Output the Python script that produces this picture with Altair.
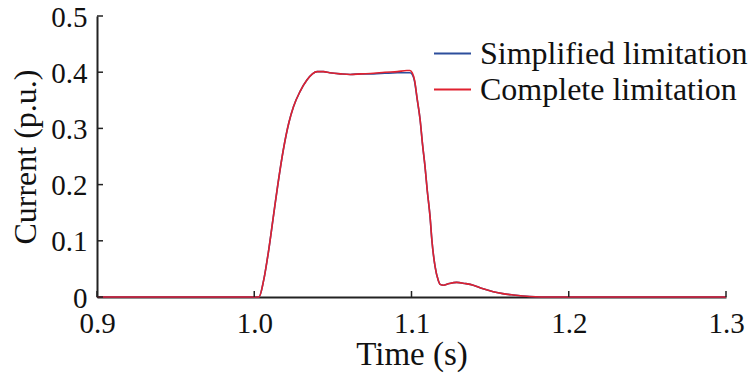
import altair as alt
import pandas as pd

# Time axis samples (s)
time = [0.9, 1.0, 1.003, 1.006, 1.009, 1.012, 1.015, 1.0185, 1.022, 1.025, 1.029,
        1.0335, 1.037, 1.040, 1.044, 1.048, 1.055, 1.061, 1.068, 1.076, 1.083,
        1.091, 1.097, 1.099, 1.1005, 1.102, 1.1035, 1.1055, 1.107, 1.1086, 1.110,
        1.1118, 1.113, 1.115, 1.117, 1.1185, 1.1202, 1.124, 1.1287, 1.134, 1.1393,
        1.145, 1.152, 1.158, 1.1647, 1.175, 1.19, 1.3]

complete = [0, 0, 0, 0.03, 0.08, 0.14, 0.2, 0.262, 0.31, 0.339, 0.365,
            0.386, 0.397, 0.401, 0.401, 0.399, 0.397, 0.396, 0.397, 0.398, 0.400,
            0.401, 0.403, 0.403, 0.399, 0.385, 0.355, 0.315, 0.272, 0.232, 0.19,
            0.143, 0.1, 0.054, 0.03, 0.022, 0.021, 0.024, 0.026, 0.024, 0.021,
            0.015, 0.0095, 0.006, 0.0036, 0.001, 0.0, 0.0]

simplified = [0, 0, 0, 0.03, 0.08, 0.14, 0.2, 0.262, 0.31, 0.339, 0.365,
              0.386, 0.397, 0.401, 0.401, 0.399, 0.397, 0.396, 0.397, 0.397, 0.398,
              0.399, 0.399, 0.399, 0.396, 0.383, 0.354, 0.315, 0.272, 0.232, 0.19,
              0.143, 0.1, 0.054, 0.03, 0.022, 0.021, 0.024, 0.026, 0.024, 0.021,
              0.015, 0.0095, 0.006, 0.0036, 0.001, 0.0, 0.0]

series_names = ["Simplified limitation", "Complete limitation"]
series_colors = ["#2d4e9c", "#e0212f"]

x_ticks = [0.9, 1.0, 1.1, 1.2, 1.3]
y_ticks = [0, 0.1, 0.2, 0.3, 0.4, 0.5]

rows = []
for t, v in zip(time, simplified):
    rows.append({"t": t, "v": v, "s": series_names[0], "o": 0})
for t, v in zip(time, complete):
    rows.append({"t": t, "v": v, "s": series_names[1], "o": 1})
df = pd.DataFrame(rows)

FONT = "Times New Roman, Liberation Serif, serif"
LFS = 29   # tick labels
XTFS = 33  # x title
YTFS = 32  # y title
GFS = 32   # legend labels
W, H = 629, 281

xs = alt.Scale(domain=[0.9, 1.3], nice=False, zero=False)
ys = alt.Scale(domain=[0, 0.5], nice=False)

lines = alt.Chart(df).mark_line(strokeWidth=1.6, interpolate="monotone").encode(
    x=alt.X("t:Q", scale=xs, title="Time (s)",
            axis=alt.Axis(values=x_ticks, format=".1f", ticks=False, grid=False,
                          labelFont=FONT, labelFontSize=LFS, titleFont=FONT, titleFontSize=XTFS,
                          labelColor="#111", titleColor="#111", titleFontWeight="normal",
                          labelPadding=12, titlePadding=0, labelFlush=False)),
    y=alt.Y("v:Q", scale=ys, title="Current (p.u.)",
            axis=alt.Axis(values=y_ticks, labelExpr="datum.value == 0 ? '0' : format(datum.value, '.1f')",
                          labelFont=FONT, labelFontSize=LFS, titleFont=FONT, titleFontSize=YTFS,
                          labelColor="#111", titleColor="#111", titleFontWeight="normal",
                          ticks=False, grid=False, labelPadding=10, titlePadding=8,
                          labelOffset=1, labelFlush=False)),
    color=alt.Color("s:N", scale=alt.Scale(domain=series_names, range=series_colors),
                    legend=alt.Legend(title=None, orient="none", legendX=336, legendY=18,
                                      symbolType="stroke", symbolSize=1369, symbolStrokeWidth=2,
                                      labelFont=FONT, labelFontSize=GFS, labelColor="#111",
                                      labelLimit=0, labelOffset=8, rowPadding=0, padding=0)),
    order="o:Q",
    detail="s:N",
)

xt = alt.Chart(pd.DataFrame({"t": x_ticks})).mark_rule(color="#222", strokeWidth=1.5).encode(
    x=alt.X("t:Q", scale=xs), y=alt.value(H), y2=alt.value(H - 6))
yt = alt.Chart(pd.DataFrame({"v": y_ticks})).mark_rule(color="#222", strokeWidth=1.5).encode(
    y=alt.Y("v:Q", scale=ys), x=alt.value(0), x2=alt.value(6))

chart = alt.layer(lines, xt, yt).properties(
    width=W, height=H,
    autosize=alt.AutoSizeParams(type="none"),
    padding={"left": 89, "top": 8, "right": 22, "bottom": 76},
).configure_view(stroke=None).configure_axis(
    domainColor="#222", domainWidth=2,
)

chart.save("out.html", embed_options={"renderer": "svg", "actions": False})
